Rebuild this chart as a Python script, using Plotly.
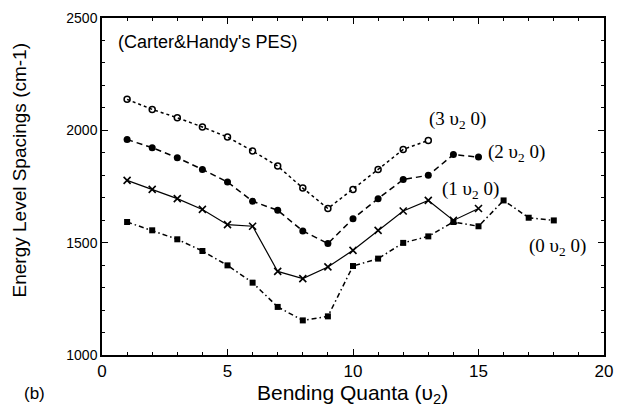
import plotly.graph_objects as go

# Data
x_3 = list(range(1, 14))
y_3 = [2138, 2093, 2056, 2015, 1970, 1908, 1841, 1743, 1652, 1737, 1826, 1915, 1955]

x_2 = list(range(1, 16))
y_2 = [1959, 1923, 1878, 1826, 1770, 1684, 1644, 1552, 1496, 1607, 1696, 1781, 1800, 1892, 1881]

x_1 = list(range(1, 16))
y_1 = [1777, 1737, 1696, 1648, 1580, 1573, 1372, 1340, 1392, 1466, 1555, 1641, 1688, 1599, 1652]

x_0 = list(range(1, 19))
y_0 = [1592, 1555, 1515, 1463, 1399, 1322, 1214, 1154, 1172, 1396, 1429, 1499, 1528, 1592, 1573, 1688, 1611, 1599]

series_labels = ["(3 υ<sub>2</sub> 0)", "(2 υ<sub>2</sub> 0)", "(1 υ<sub>2</sub> 0)", "(0 υ<sub>2</sub> 0)"]
label_pos = [(12.95, 2046), (15.3, 1899), (13.45, 1734), (16.95, 1481)]

x_ticks = [0, 5, 10, 15, 20]
y_ticks = [1000, 1500, 2000, 2500]

fig = go.Figure()
fig.add_trace(go.Scatter(x=x_3, y=y_3, mode="lines+markers",
                         line=dict(color="black", width=1.5, dash="dot"),
                         marker=dict(symbol="circle-open", size=6, color="black", line=dict(width=1.5))))
fig.add_trace(go.Scatter(x=x_2, y=y_2, mode="lines+markers",
                         line=dict(color="black", width=1.5, dash="6px,4px"),
                         marker=dict(symbol="circle", size=7, color="black")))
fig.add_trace(go.Scatter(x=x_1, y=y_1, mode="lines+markers",
                         line=dict(color="black", width=1.2),
                         marker=dict(symbol="x-thin", size=7, color="black", line=dict(width=1.6, color="black"))))
fig.add_trace(go.Scatter(x=x_0, y=y_0, mode="lines+markers",
                         line=dict(color="black", width=1.5, dash="5px,3px,1.5px,3px"),
                         marker=dict(symbol="square", size=6, color="black")))

for lab, (lx, ly) in zip(series_labels, label_pos):
    fig.add_annotation(x=lx, y=ly, text=lab, showarrow=False, xanchor="left", yanchor="middle",
                       font=dict(family="Liberation Serif, Times New Roman, serif", size=19, color="black"))

sans = "Liberation Sans, Arial, sans-serif"
fig.add_annotation(xref="paper", yref="paper", x=(116 - 102) / 511, y=1 - (42 - 18) / 337,
                   text="(Carter&Handy's PES)", showarrow=False, xanchor="left", yanchor="middle",
                   font=dict(family=sans, size=18, color="black"))
fig.add_annotation(xref="paper", yref="paper", x=(357 - 102) / 511, y=-(394 - 355) / 337,
                   text="Bending Quanta (υ<sub>2</sub>)", showarrow=False, xanchor="center", yanchor="middle",
                   font=dict(family=sans, size=21, color="black"))
fig.add_annotation(xref="paper", yref="paper", x=(18 - 102) / 511, y=1 - (170 - 18) / 337,
                   text="Energy Level Spacings (cm-1)", showarrow=False, textangle=-90,
                   xanchor="center", yanchor="middle",
                   font=dict(family=sans, size=19, color="black"))
fig.add_annotation(xref="paper", yref="paper", x=(33 - 102) / 511, y=-(394 - 355) / 337,
                   text="(b)", showarrow=False, xanchor="center", yanchor="middle",
                   font=dict(family=sans, size=17, color="black"))

axis_common = dict(showline=True, linecolor="black", linewidth=1.5, mirror="ticks",
                   ticks="inside", ticklen=6, tickwidth=1.2, tickcolor="black",
                   showgrid=False, zeroline=False)
fig.update_xaxes(range=[0, 20], tickvals=x_ticks, ticktext=[str(v) for v in x_ticks],
                 minor=dict(dtick=1, ticks="inside", ticklen=3, tickcolor="black", tickwidth=1),
                 tickfont=dict(family=sans, size=17, color="black"),
                 **axis_common)
fig.update_yaxes(range=[1000, 2500], tickvals=y_ticks, ticktext=[str(v) for v in y_ticks],
                 minor=dict(dtick=100, ticks="inside", ticklen=3, tickcolor="black", tickwidth=1),
                 tickfont=dict(family=sans, size=14, color="black"),
                 **axis_common)

fig.update_layout(width=623, height=409, showlegend=False,
                  margin=dict(l=102, r=10, t=18, b=54),
                  plot_bgcolor="white", paper_bgcolor="white")

fig.write_html("out.html")
